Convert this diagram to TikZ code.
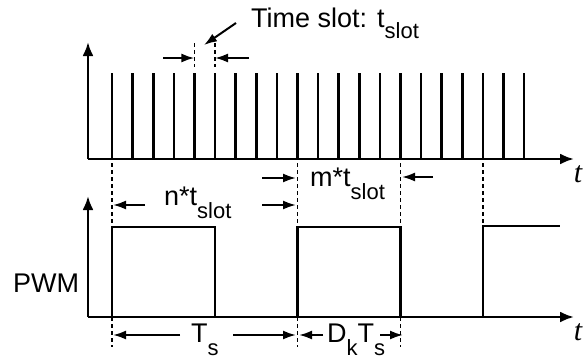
\documentclass[tikz,border=0pt]{standalone}
\usepackage{fontspec}
\setmainfont{Liberation Sans}
\newfontfamily\tfont{Liberation Serif}
\usetikzlibrary{arrows.meta, positioning, calc}
\newcommand{\lowsub}[2][11pt]{\raisebox{-#1}{\fontsize{22}{22}\selectfont #2}}

\begin{document}
\begin{tikzpicture}[x=1pt, y=-1pt,
    axis/.style={line width=2.6pt, -{Latex[length=14pt, width=11pt]}},
    sig/.style={line width=2.6pt},
    guide/.style={line width=1.4pt, dash pattern=on 4pt off 3pt},
    dim/.style={line width=2pt, -{Latex[length=13pt, width=9pt]}},
    lbl/.style={font=\fontsize{27}{27}\selectfont, inner sep=0pt, anchor=base west},
    tlbl/.style={font=\tfont\itshape\fontsize{30}{30}\selectfont, inner sep=0pt}]
  \useasboundingbox (0,0) rectangle (586,362);
  \def\slot{20.6}

  % Time slots on top axis
  \foreach \i in {0,...,20}
    \draw[sig] ({112+\i*\slot},159) -- ({112+\i*\slot},73);
  \draw[axis] (88,159) -- (88,42);
  \draw[axis] (88,159) -- (574,159);
  \node[tlbl] (ttop) at (578,174) {t};

  % One time slot marked
  \coordinate (sa) at ({112+4*\slot},43);
  \coordinate (sb) at ({112+5*\slot},43);
  \draw[guide] (sa) -- ++(0,24);
  \draw[guide] (sb) -- ++(0,24);
  \draw[dim] ($(sa)+(-31,15)$) -- ($(sa)+(0,15)$);
  \draw[dim] ($(sb)+(34,15)$) -- ($(sb)+(0,15)$);
  \node[lbl] (slotlbl) at (251,27) {Time slot: t\lowsub[11pt]{slot}};
  \coordinate (slotptr) at (204,45);
  \draw[dim] ($(slotlbl.base west)+(-15,-4)$) -- (slotptr);

  % PWM signal
  \draw[axis] (88,317) -- (88,196);
  \draw[axis] (88,317) -- (574,317);
  \node[tlbl] (tbot) at (578,332) {t};
  \draw[sig] (112,317) -- (112,227) -- ({112+5*\slot},227) -- ({112+5*\slot},317);
  \draw[sig] ({112+9*\slot},317) -- ({112+9*\slot},227) -- ({112+14*\slot},227) -- ({112+14*\slot},317);
  \draw[sig] ({112+18*\slot},317) -- ({112+18*\slot},226) -- (560,226);
  \node[font=\fontsize{27}{27}\selectfont, inner sep=0pt] (pwm) at (46,283) {PWM};

  % Guide lines between the two plots
  \foreach \i in {0,9,14}
    \draw[guide] ({112+\i*\slot},163) -- ({112+\i*\slot},347);
  \draw[guide] ({112+18*\slot},163) -- ({112+18*\slot},225);

  % n*t_slot and m*t_slot
  \node[lbl] (nlbl) at (164,205) {n*t\lowsub[13pt]{slot}};
  \draw[dim] (145,205) -- (113,205);
  \draw[dim] (262,205) -- (296,205);
  \node[lbl] (mlbl) at (310,186) {m*t\lowsub[13pt]{slot}};
  \draw[dim] (262,178) -- (296,178);
  \draw[dim] (433,177) -- (402,177);

  % T_s and D_k T_s
  \node[lbl] (tslbl) at (191,342) {T\lowsub[13pt]{s}};
  \draw[dim] (180,335) -- (113,335);
  \draw[dim] (233,335) -- (296,335);
  \node[lbl] (dlbl) at (327,342) {D\lowsub[13pt]{k}T\lowsub[13pt]{s}};
  \draw[dim] (323,335) -- (299,335);
  \draw[dim] (380,335) -- (403,335);
\end{tikzpicture}
\end{document}
